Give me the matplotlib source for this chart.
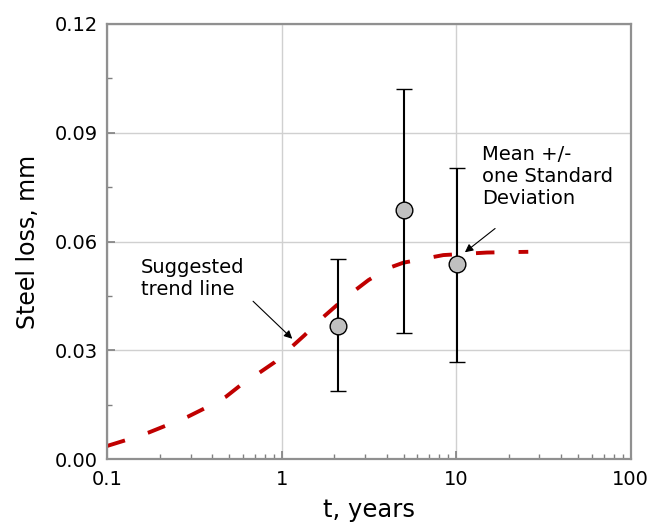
import matplotlib
matplotlib.use("Agg")
import matplotlib.pyplot as plt
from matplotlib.ticker import FixedLocator, NullFormatter, LogLocator
import numpy as np

# Data
t_points = [2.09, 5.0, 10.15]
mean_loss = [0.0368, 0.0687, 0.0539]
upper = [0.0551, 0.1020, 0.0804]
lower = [0.0189, 0.0349, 0.0267]

trend_t = [0.1, 0.128, 0.173, 0.217, 0.291, 0.363, 0.480, 0.583, 0.751, 0.913, 1.14, 1.35,
           1.70, 2.07, 2.57, 3.14, 4.08, 4.98, 6.72, 8.44, 11.7, 15.0, 25.9]
trend_v = [0.0037, 0.0053, 0.0074, 0.0093, 0.0118, 0.0141, 0.0173, 0.0205, 0.0240, 0.0268, 0.0310, 0.0342,
           0.0389, 0.0425, 0.0462, 0.0494, 0.0527, 0.0542, 0.0554, 0.0563, 0.0567, 0.0570, 0.0572]

x_ticks = [0.1, 1, 10, 100]
x_ticklabels = ["0.1", "1", "10", "100"]
y_ticks = [0.00, 0.03, 0.06, 0.09, 0.12]
y_ticklabels = ["0.00", "0.03", "0.06", "0.09", "0.12"]

plt.rcParams['font.family'] = ['DejaVu Sans']

fig = plt.figure(figsize=(6.62, 5.25), dpi=100)
ax = fig.add_axes([0.1621, 0.1251, 0.9526 - 0.1621, 0.9543 - 0.1251])

ax.set_xscale('log')
ax.set_xlim(0.1, 100)
ax.set_ylim(0, 0.12)

ax.grid(True, which='major', color='#d0d0d0', linewidth=1.0)
ax.set_axisbelow(True)

ax.plot(trend_t, trend_v, color='#c00000', linewidth=2.8, dashes=(4.75, 6.2))

yerr = [np.array(mean_loss) - np.array(lower), np.array(upper) - np.array(mean_loss)]
ax.errorbar(t_points, mean_loss, yerr=yerr, fmt='o', color='black', ecolor='black',
            elinewidth=1.5, capsize=6, capthick=1.5, markersize=12,
            markerfacecolor='#c0c0c0', markeredgecolor='black', markeredgewidth=1.0, zorder=5)

ax.set_xticks(x_ticks)
ax.set_xticklabels(x_ticklabels)
ax.xaxis.set_minor_locator(LogLocator(base=10, subs=np.arange(2, 10)))
ax.xaxis.set_minor_formatter(NullFormatter())
ax.set_yticks(y_ticks)
ax.set_yticklabels(y_ticklabels)
ax.yaxis.set_minor_locator(FixedLocator([0.015, 0.045, 0.075, 0.105]))

ax.tick_params(which='both', direction='in', colors='#808080', labelcolor='black', labelsize=14)
ax.tick_params(which='major', length=6, width=1.2)
ax.tick_params(which='minor', length=3.5, width=1.0)
ax.tick_params(axis='x', which='major', pad=8)
ax.tick_params(axis='y', which='major', pad=7)
for s in ax.spines.values():
    s.set_color('#909090')
    s.set_linewidth(1.6)

ax.set_xlabel('t, years', fontsize=17.5, labelpad=6)
ax.set_ylabel('Steel loss, mm', fontsize=17, labelpad=10)

ax.annotate('', xy=(1.18, 0.0327), xytext=(0.667, 0.0441),
            arrowprops=dict(arrowstyle='-|>', color='black', lw=0.8, mutation_scale=12))
ax.text(0.1554, 0.0554, 'Suggested\ntrend line', fontsize=14, ha='left', va='top', linespacing=1.2)

ax.annotate('', xy=(10.9, 0.0566), xytext=(17.2, 0.0641),
            arrowprops=dict(arrowstyle='-|>', color='black', lw=0.8, mutation_scale=12))
ax.text(14.12, 0.0866, 'Mean +/-\none Standard\nDeviation', fontsize=14, ha='left', va='top', linespacing=1.2)

fig.savefig('out.png', dpi=100)
